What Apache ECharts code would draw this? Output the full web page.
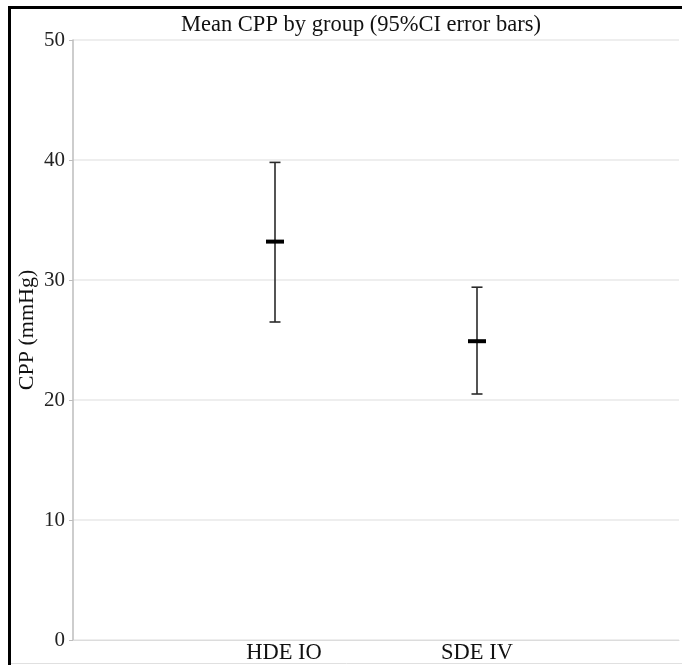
<!DOCTYPE html>
<html>
<head>
<meta charset="utf-8">
<style>html,body{margin:0;padding:0;background:#fff;}#c{width:682px;height:665px;}</style>
<script src="https://cdn.jsdelivr.net/npm/echarts@6/dist/echarts.min.js"></script>
</head>
<body>
<div id="c"></div>
<script>
const categories = ['HDE IO', 'SDE IV'];
const means = [33.2, 24.9];
const lowerCI = [26.5, 20.5];
const upperCI = [39.8, 29.4];
const yTicks = [0, 10, 20, 30, 40, 50];

const axisCats = [''].concat(categories.map((c, i) => i === 0 ? {value: c, textStyle: {padding: [0, 0, 0, 18]}} : c), ['']);
const errData = categories.map((c, i) => [i + 1, lowerCI[i], means[i], upperCI[i]]);

const chart = echarts.init(document.getElementById('c'), null, {renderer: 'canvas'});
const serif = '"Liberation Serif", "DejaVu Serif", serif';
chart.setOption({
  animation: false,
  backgroundColor: '#fff',
  title: {
    text: 'Mean CPP by group (95%CI error bars)',
    left: 176, top: 9,
    textStyle: {fontFamily: serif, fontSize: 22.5, fontWeight: 'normal', color: '#111'}
  },
  grid: {left: 73, right: 0, top: 40, bottom: 25, containLabel: false},
  xAxis: {
    type: 'category', data: axisCats, boundaryGap: false,
    axisLine: {show: true, lineStyle: {color: '#dcdcdc', width: 1}},
    axisTick: {show: false},
    axisLabel: {fontFamily: serif, fontSize: 22.5, color: '#111', margin: 2, interval: 0},
    splitLine: {show: false}
  },
  yAxis: {
    type: 'value', min: yTicks[0], max: yTicks[yTicks.length - 1], interval: 10,
    name: 'CPP (mmHg)', nameLocation: 'middle', nameGap: 35, nameMoveOverlap: false,
    nameTextStyle: {fontFamily: serif, fontSize: 22, color: '#111', padding: [0, 0, 0, 20]},
    axisLine: {show: true, lineStyle: {color: '#bdbdbd', width: 1.5}},
    axisTick: {show: true, length: 4, lineStyle: {color: '#bdbdbd'}},
    axisLabel: {fontFamily: serif, fontSize: 21, color: '#222', margin: 8},
    splitLine: {show: true, lineStyle: {color: '#e8e8e8', width: 1.5}}
  },
  graphic: [
    {type: 'rect', shape: {x: 9.5, y: 7.5, width: 700, height: 700}, style: {fill: 'none', stroke: '#000', lineWidth: 3}, z: 100},
    {type: 'line', shape: {x1: 11, y1: 663.5, x2: 682, y2: 663.5}, style: {stroke: '#e0e0e0', lineWidth: 1}, z: 100}
  ],
  series: [{
    type: 'custom',
    data: errData,
    encode: {x: 0, y: [1, 2, 3]},
    renderItem: function (params, api) {
      const x = api.value(0);
      const lo = api.coord([x, api.value(1)]);
      const mid = api.coord([x, api.value(2)]);
      const hi = api.coord([x, api.value(3)]);
      const cap = 5.5, mw = 9;
      const ls = {stroke: '#2a2a2a', lineWidth: 1.6};
      return {
        type: 'group',
        children: [
          {type: 'line', shape: {x1: hi[0], y1: hi[1], x2: lo[0], y2: lo[1]}, style: ls},
          {type: 'line', shape: {x1: hi[0] - cap, y1: hi[1], x2: hi[0] + cap, y2: hi[1]}, style: ls},
          {type: 'line', shape: {x1: lo[0] - cap, y1: lo[1], x2: lo[0] + cap, y2: lo[1]}, style: ls},
          {type: 'line', shape: {x1: mid[0] - mw, y1: mid[1], x2: mid[0] + mw, y2: mid[1]}, style: {stroke: '#000', lineWidth: 4}}
        ]
      };
    }
  }]
});
</script>
</body>
</html>
